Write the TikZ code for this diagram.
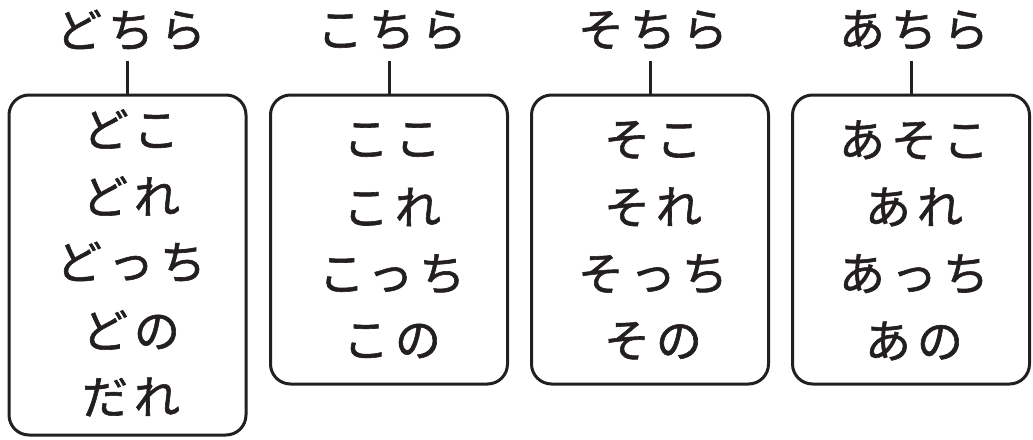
\documentclass[tikz,border=0pt]{standalone}
\usepackage{fontspec}
\newfontfamily\jpfont[LetterSpace=13,FakeBold=1.3]{Noto Sans CJK JP}
\definecolor{ink}{HTML}{231F20}
\begin{document}
\begin{tikzpicture}[x=1pt,y=-1pt,
  lbl/.style={inner sep=0pt,text=ink,font=\jpfont\fontsize{46pt}{46pt}\selectfont},
  ttl/.style={lbl,minimum height=62pt},
  box/.style={draw=ink,line width=3pt,rounded corners=20pt,minimum width=237pt,inner sep=0pt},
  tick/.style={draw=ink,line width=3pt}]
\useasboundingbox (0,0) rectangle (1033,439);
% boxes
\node[box,minimum height=340pt] (b1) at (127.5,265) {};
\node[box,minimum height=289pt] (b2) at (389,239.5) {};
\node[box,minimum height=289pt] (b3) at (650,239.5) {};
\node[box,minimum height=289pt] (b4) at (911,239.5) {};
% titles
\node[ttl] (t1) at (131,30) {どちら};
\node[ttl] (t2) at (392,30) {こちら};
\node[ttl] (t3) at (653,30) {そちら};
\node[ttl] (t4) at (914,30) {あちら};
\draw[tick] (t1.south -| b1.north) -- (b1.north);
\draw[tick] (t2.south -| b2.north) -- (b2.north);
\draw[tick] (t3.south -| b3.north) -- (b3.north);
\draw[tick] (t4.south -| b4.north) -- (b4.north);
% box 1
\node[lbl] (a1) at (131,129) {どこ};
\node[lbl] (a2) at (131,196) {どれ};
\node[lbl] (a3) at (131,262) {どっち};
\node[lbl] (a4) at (131,330) {どの};
\node[lbl] (a5) at (131,397) {だれ};
% box 2
\node[lbl] (k1) at (392,140) {ここ};
\node[lbl] (k2) at (392,207) {これ};
\node[lbl] (k3) at (392,274) {こっち};
\node[lbl] (k4) at (392,341) {この};
% box 3
\node[lbl] (s1) at (653,140) {そこ};
\node[lbl] (s2) at (653,207) {それ};
\node[lbl] (s3) at (653,274) {そっち};
\node[lbl] (s4) at (653,341) {その};
% box 4
\node[lbl] (r1) at (914,140) {あそこ};
\node[lbl] (r2) at (914,207) {あれ};
\node[lbl] (r3) at (914,274) {あっち};
\node[lbl] (r4) at (914,341) {あの};
\end{tikzpicture}
\end{document}
